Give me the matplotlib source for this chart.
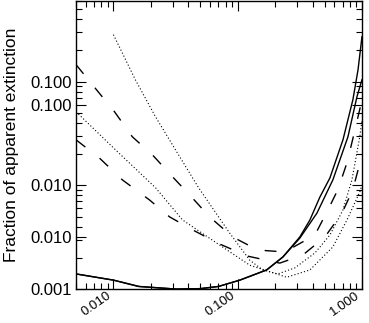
import matplotlib.pyplot as plt
from matplotlib.ticker import FixedLocator, NullFormatter, LogLocator

plt.rcParams['font.family'] = ['Liberation Sans', 'DejaVu Sans']

# solid curves (shared left branch, two right branches)
x_solid = [0.005, 0.01, 0.016, 0.032, 0.05, 0.07, 0.104, 0.171, 0.231, 0.316, 0.381, 0.458, 0.552, 0.703, 0.845, 0.929, 1.0]
y_solid1 = [0.0014, 0.00122, 0.00106, 0.001, 0.00101, 0.00106, 0.00122, 0.00153, 0.00204, 0.00318, 0.00464, 0.0077, 0.0118, 0.0275, 0.067, 0.13, 0.272]
x_solid2 = [0.005, 0.01, 0.016, 0.032, 0.05, 0.07, 0.104, 0.171, 0.231, 0.316, 0.434, 0.583, 0.771, 0.911, 1.0]
y_solid2 = [0.0014, 0.00122, 0.00106, 0.001, 0.00101, 0.00106, 0.00122, 0.00153, 0.00204, 0.0031, 0.0054, 0.0113, 0.0294, 0.0716, 0.1045]

# dashed curves
x_dashA = [0.005, 0.0073, 0.0102, 0.0142, 0.0206, 0.0299, 0.0426, 0.0594, 0.0912, 0.145, 0.239, 0.418, 0.532, 0.64, 0.757, 0.879, 1.0]
y_dashA = [0.146, 0.0837, 0.0513, 0.0294, 0.0197, 0.0121, 0.0077, 0.00497, 0.00318, 0.00238, 0.00228, 0.00332, 0.0058, 0.0091, 0.0165, 0.0344, 0.067]
x_dashB = [0.005, 0.0077, 0.0118, 0.0195, 0.0283, 0.0434, 0.0716, 0.12, 0.218, 0.334, 0.503, 0.69, 0.845, 1.0]
y_dashB = [0.0275, 0.0184, 0.0113, 0.00724, 0.00497, 0.00372, 0.00272, 0.00208, 0.00178, 0.00213, 0.00318, 0.0054, 0.0091, 0.0197]

# dotted curves
x_dotC = [0.01, 0.015, 0.0218, 0.0316, 0.0484, 0.086, 0.125, 0.159, 0.21, 0.288, 0.418, 0.552, 0.703, 0.83, 0.96, 1.0]
y_dotC = [0.284, 0.1045, 0.0459, 0.022, 0.0095, 0.00348, 0.0019, 0.00153, 0.0014, 0.0016, 0.00223, 0.00332, 0.0058, 0.0113, 0.0294, 0.043]
x_dotD = [0.005, 0.0104, 0.0218, 0.036, 0.0677, 0.125, 0.248, 0.381, 0.583, 0.757, 0.96, 1.0]
y_dotD = [0.0513, 0.022, 0.0095, 0.00464, 0.00278, 0.0017, 0.0013, 0.00153, 0.00255, 0.00464, 0.00865, 0.0101]

ytick_vals = [0.001, 0.0032, 0.01, 0.06, 0.1]
ytick_labels = ["0.001", "0.010", "0.010", "0.100", "0.100"]
xtick_vals = [0.01, 0.1, 1.0]
xtick_labels = ["0.010", "0.100", "1.000"]

fig = plt.figure(figsize=(3.69, 3.23), dpi=100)
ax = fig.add_axes([0.206, 0.105, 0.775, 0.892])

ax.plot(x_solid, y_solid1, '-', color='black', lw=1.0)
ax.plot(x_solid2, y_solid2, '-', color='black', lw=1.0)
ax.plot(x_dashA, y_dashA, color='black', lw=1.0, linestyle=(0, (8.5, 13)))
ax.plot(x_dashB, y_dashB, color='black', lw=1.0, linestyle=(0, (8.5, 13)))
ax.plot(x_dotC, y_dotC, color='black', lw=0.8, linestyle=(0, (1, 2)))
ax.plot(x_dotD, y_dotD, color='black', lw=0.8, linestyle=(0, (1, 2)))

ax.set_xscale('log')
ax.set_yscale('log')
ax.set_xlim(0.005, 1.0)
ax.set_ylim(0.001, 0.6)

ax.xaxis.set_major_locator(FixedLocator(xtick_vals))
ax.set_xticklabels(xtick_labels, rotation=35, ha='right', va='top', fontsize=9.5)
ax.xaxis.set_minor_locator(LogLocator(base=10, subs=range(2, 10)))
ax.xaxis.set_minor_formatter(NullFormatter())

ax.yaxis.set_major_locator(FixedLocator(ytick_vals))
ax.set_yticklabels(ytick_labels, fontsize=12)
ax.yaxis.set_minor_locator(LogLocator(base=10, subs=range(2, 10)))
ax.yaxis.set_minor_formatter(NullFormatter())

ax.tick_params(which='both', direction='in', top=True, right=True, width=0.8)
ax.tick_params(which='major', length=7)
ax.tick_params(axis='y', which='major', pad=3)
ax.tick_params(axis='x', which='major', pad=0)
ax.tick_params(which='minor', length=4)
for s in ax.spines.values():
    s.set_linewidth(1.0)

ax.set_ylabel("Fraction of apparent extinction", fontsize=12.5)
ax.yaxis.set_label_coords(-0.2, 0.5)

fig.savefig("out.png", dpi=100)
